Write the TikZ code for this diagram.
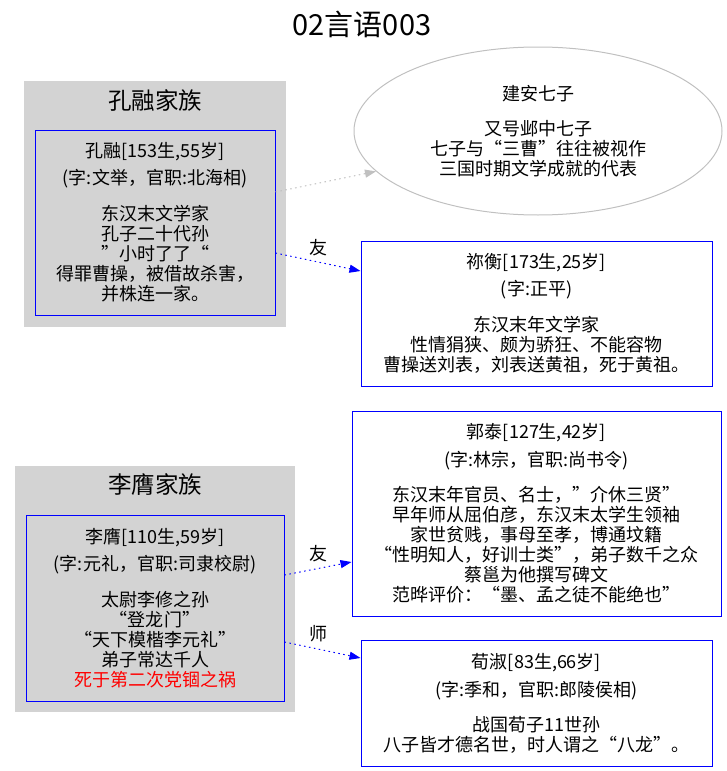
\documentclass[tikz,border=0pt]{standalone}
\usepackage{fontspec}
\setmainfont{Noto Sans CJK SC}
\usetikzlibrary{arrows.meta,shapes.geometric}
\definecolor{clgray}{RGB}{211,211,211}
\definecolor{silv}{RGB}{192,192,192}
\begin{document}
\begin{tikzpicture}[x=1pt,y=-1pt,
  txt/.style={font=\fontsize{18}{20}\selectfont, align=center},
  person/.style={txt, draw=blue, line width=1pt, inner sep=0pt},
  cluster/.style={fill=clgray, inner sep=0pt},
  clabel/.style={font=\fontsize{23.5}{26}\selectfont},
  reledge/.style={blue, line width=1pt, dash pattern=on 1.5pt off 3.5pt, -{Triangle[length=11pt,width=8pt]}},
  grayedge/.style={silv, line width=1pt, dash pattern=on 1.5pt off 3.5pt, -{Triangle[length=11pt,width=8pt]}},
  elabel/.style={txt, text=black, inner sep=0pt}]
\useasboundingbox (0,0) rectangle (727,771);
\node[font=\fontsize{29}{32}\selectfont] (title) at (362,24) {02言语003};
% clusters
\node[cluster, minimum width=262pt, minimum height=246pt] (c1) at (155,204) {};
\node[clabel] (c1lab) at (155,100) {孔融家族};
\node[cluster, minimum width=280pt, minimum height=246pt] (c2) at (155,589) {};
\node[clabel] (c2lab) at (155,485) {李膺家族};
% nodes
\node[person, minimum width=240pt, minimum height=185pt] (kr) at (155,222.5)
  {孔融[153生,55岁]\\[7pt](字:文举，官职:北海相)\\[16pt]东汉末文学家\\孔子二十代孙\\”小时了了“\\得罪曹操，被借故杀害，\\并株连一家。};
\node[ellipse, draw=silv, line width=1pt, minimum width=368pt, minimum height=168pt, inner sep=0pt, txt] (el) at (538,131)
  {建安七子\\[15pt]又号邺中七子\\七子与“三曹”往往被视作\\三国时期文学成就的代表};
\node[person, fill=white, minimum width=351pt, minimum height=145pt] (mh) at (536.5,313.5)
  {祢衡[173生,25岁]\\[7pt](字:正平)\\[16pt]东汉末年文学家\\性情狷狭、颇为骄狂、不能容物\\曹操送刘表，刘表送黄祖，死于黄祖。};
\node[person, minimum width=258pt, minimum height=186pt] (ly) at (155,608)
  {李膺[110生,59岁]\\[7pt](字:元礼，官职:司隶校尉)\\[16pt]太尉李修之孙\\“登龙门”\\“天下模楷李元礼”\\弟子常达千人\\\textcolor{red}{死于第二次党锢之祸}};
\node[person, fill=white, minimum width=369pt, minimum height=205pt] (gt) at (536.5,513.5)
  {郭泰[127生,42岁]\\[8pt](字:林宗，官职:尚书令)\\[15pt]东汉末年官员、名士，”介休三贤”\\早年师从屈伯彦，东汉末太学生领袖\\家世贫贱，事母至孝，博通坟籍\\“性明知人，好训士类”，弟子数千之众\\蔡邕为他撰写碑文\\范晔评价：“墨、孟之徒不能绝也”};
\node[person, fill=white, minimum width=351pt, minimum height=126pt] (xs) at (536.5,703)
  {荀淑[83生,66岁]\\[8pt](字:季和，官职:郎陵侯相)\\[15pt]战国荀子11世孙\\八子皆才德名世，时人谓之“八龙”。};
% edges
\draw[grayedge] ([yshift=30.5pt]kr.east) -- (el.194);
\draw[reledge] ([yshift=-30.5pt]kr.east) -- node[elabel, midway, yshift=14pt] (l1) {友} ([yshift=42.5pt]mh.west);
\draw[reledge] ([yshift=33pt]ly.east) -- node[elabel, midway, yshift=15pt] (l2) {友} ([yshift=-48.5pt]gt.west);
\draw[reledge] ([yshift=-34pt]ly.east) -- node[elabel, midway, yshift=16pt, xshift=-4pt] (l3) {师} ([yshift=45pt]xs.west);
\end{tikzpicture}
\end{document}
